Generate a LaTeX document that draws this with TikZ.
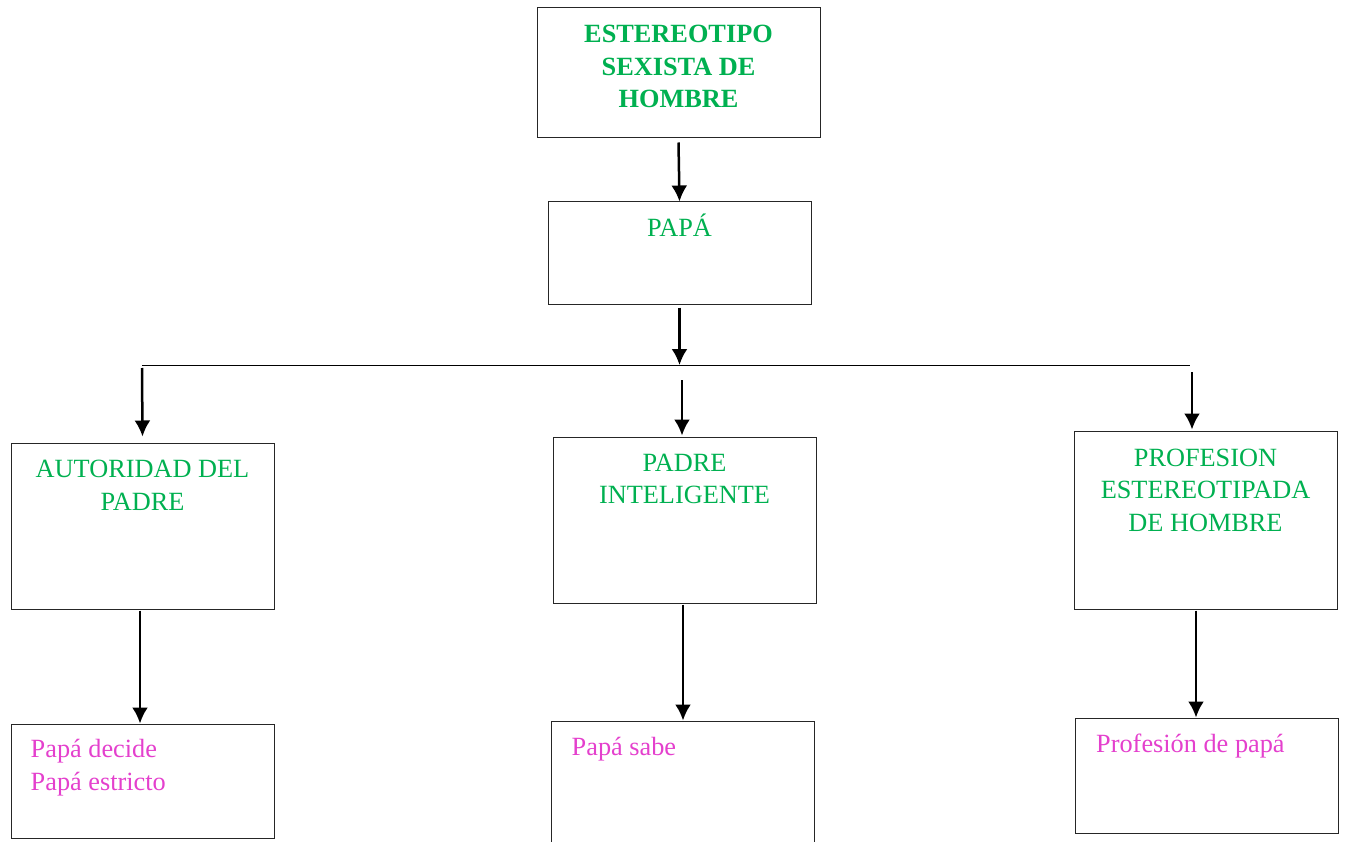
\documentclass[tikz,border=0pt]{standalone}
\usepackage{fontspec}
\setmainfont{Liberation Serif}
\usetikzlibrary{arrows.meta,positioning}
\definecolor{verde}{RGB}{0,176,80}
\definecolor{rosa}{RGB}{228,64,205}
\tikzset{
    caja/.style={draw=black!85, line width=1pt, minimum width=263pt, inner sep=0pt},
    titulo/.style={text=verde, align=center, inner sep=0pt, anchor=base},
    nota/.style={text=rosa, align=left, inner sep=0pt, anchor=base west},
    flecha/.style={->, line width=2.5pt},
}
\begin{document}
\begin{tikzpicture}[x=1pt,y=-1pt,>={Latex[length=16pt,width=16pt]},
    font=\fontsize{26.3}{32.4}\selectfont]
    \useasboundingbox (0,0) rectangle (1346,842);
    % cajas
    \node[caja, minimum width=283pt, minimum height=130pt] (estereotipo) at (678.5,73) {};
    \node[caja, minimum height=102pt] (papa) at (679.5,253) {};
    \node[caja, minimum height=166pt] (autoridad) at (142.5,526) {};
    \node[caja, minimum height=166pt] (inteligente) at (684.5,520) {};
    \node[caja, minimum height=178pt] (profesion) at (1205.5,520) {};
    \node[caja, minimum height=114pt] (decide) at (142.5,781) {};
    \node[caja, minimum height=126pt] (sabe) at (682.5,784) {};
    \node[caja, minimum height=115pt] (profpapa) at (1207,775.5) {};
    % textos (la base es la de la ultima linea)
    \node[titulo, font=\fontsize{26.3}{32.4}\selectfont\bfseries] (t1) at ([yshift=-100pt]estereotipo.north) {ESTEREOTIPO\\SEXISTA DE\\HOMBRE};
    \node[titulo] (t2) at ([yshift=-35pt]papa.north) {PAPÁ};
    \node[titulo] (t3) at ([yshift=-67.5pt]autoridad.north) {AUTORIDAD DEL\\PADRE};
    \node[titulo] (t4) at ([yshift=-67pt]inteligente.north) {PADRE\\INTELIGENTE};
    \node[titulo] (t5) at ([yshift=-100.5pt]profesion.north) {PROFESION\\ESTEREOTIPADA\\DE HOMBRE};
    \node[nota] (t6) at ([xshift=20pt,yshift=-66.5pt]decide.north west) {Papá decide\\Papá estricto};
    \node[nota] (t7) at ([xshift=21pt,yshift=-35pt]sabe.north west) {Papá sabe};
    \node[nota] (t8) at ([xshift=21pt,yshift=-35pt]profpapa.north west) {Profesión de papá};
    % reparto
    \coordinate (izq) at (142,365);
    \coordinate (der) at (1190,365);
    \draw[line width=1pt] (izq) -- (der);
    \draw[flecha] ([yshift=-4pt]estereotipo.south) -- (papa.north);
    \draw[flecha] ([yshift=-3pt]papa.south) -- (papa.south |- izq);
    \draw[flecha] ([yshift=-3pt]izq) -- ([yshift=6pt]autoridad.north);
    \draw[flecha] ([xshift=-2.5pt,yshift=-15pt]inteligente.north |- izq) -- ([xshift=-2.5pt,yshift=1pt]inteligente.north);
    \draw[flecha] ([xshift=-13.5pt,yshift=-7pt]profesion.north |- izq) -- ([xshift=-13.5pt,yshift=1pt]profesion.north);
    \foreach \a/\b/\dx in {autoridad/decide/-2.5, inteligente/sabe/-1.5, profesion/profpapa/-9.5}
    {
        \draw[flecha] ([xshift=\dx pt,yshift=-1pt]\a.south) -- ([xshift=\dx pt]\a.south |- \b.north);
    }
\end{tikzpicture}
\end{document}
